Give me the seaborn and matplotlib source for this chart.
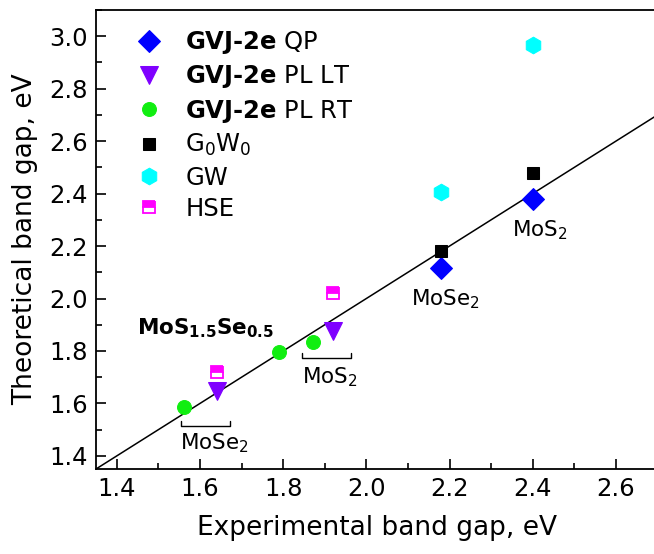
import numpy as np
import pandas as pd
import matplotlib
matplotlib.use("Agg")
import matplotlib.pyplot as plt
import seaborn as sns
from matplotlib.ticker import MultipleLocator

# band gaps, eV (experimental x, theoretical y)
qp_x = [2.18, 2.40]
qp_y = [2.115, 2.38]
pl_lt_x = [1.642, 1.921]
pl_lt_y = [1.648, 1.878]
pl_rt_x = [1.562, 1.791, 1.871]
pl_rt_y = [1.588, 1.797, 1.836]
g0w0_x = [2.18, 2.40]
g0w0_y = [2.183, 2.48]
gw_x = [2.18, 2.40]
gw_y = [2.406, 2.968]
hse_x = [1.64, 1.92]
hse_y = [1.72, 2.02]

labels = [r"$\mathbf{GVJ‐2e}$ QP", r"$\mathbf{GVJ‐2e}$ PL LT", r"$\mathbf{GVJ‐2e}$ PL RT",
          r"G$_0$W$_0$", "GW", "HSE"]

# bracket spans (x0, x1, y) grouping the PL points
brackets = [(1.555, 1.671, 1.515), (1.845, 1.962, 1.774)]

sns.set_style("ticks")
plt.rcParams['font.family'] = ['DejaVu Sans']
plt.rcParams['mathtext.fontset'] = 'dejavusans'
for k in ['text.color', 'axes.labelcolor', 'xtick.color', 'ytick.color', 'axes.edgecolor']:
    plt.rcParams[k] = 'black'

fig = plt.figure(figsize=(6.54, 5.54), dpi=100)
ax = fig.add_axes([96/654, 85/554, 561.5/654, 459/554])

kw = dict(linestyle='', estimator=None, sort=False, ax=ax)
sns.lineplot(x=qp_x, y=qp_y, marker='D', ms=11.5, color='#0000FF', mec='#0000FF', label=labels[0], **kw)
sns.lineplot(x=pl_lt_x, y=pl_lt_y, marker='v', ms=13, color='#7F00FF', mec='#7F00FF', label=labels[1], **kw)
sns.lineplot(x=pl_rt_x, y=pl_rt_y, marker='o', ms=10, color='#11EE11', mec='#11EE11', label=labels[2], **kw)
sns.lineplot(x=g0w0_x, y=g0w0_y, marker='s', ms=8.5, color='black', mec='black', label=labels[3], **kw)
sns.lineplot(x=gw_x, y=gw_y, marker='h', ms=12, color='#00FFFF', mec='#00FFFF', label=labels[4], **kw)
sns.lineplot(x=hse_x, y=hse_y, marker='s', ms=8.5, color='#FF00FF', mec='#FF00FF', mew=1.3,
             fillstyle='top', markerfacecoloralt='white', label=labels[5], **kw)

ax.axline((1.35, 1.35), slope=1, color='black', lw=1.1, zorder=1)

for x0, x1, yb in brackets:
    ax.plot([x0, x0, x1, x1], [yb + 0.018, yb, yb, yb + 0.018], color='black', lw=1)

ts = 15.5
ax.text(2.349, 2.237, r"MoS$_2$", fontsize=ts, va='baseline')
ax.text(2.107, 1.973, r"MoSe$_2$", fontsize=ts, va='baseline')
ax.text(1.845, 1.676, r"MoS$_2$", fontsize=ts, va='baseline')
ax.text(1.552, 1.424, r"MoSe$_2$", fontsize=ts, va='baseline')
ax.text(1.448, 1.862, r"$\mathbf{MoS_{1.5}Se_{0.5}}$", fontsize=ts, va='baseline')

ax.set_xlim(1.35, 2.7)
ax.set_ylim(1.35, 3.1)
ax.xaxis.set_major_locator(MultipleLocator(0.2))
ax.xaxis.set_minor_locator(MultipleLocator(0.1))
ax.yaxis.set_major_locator(MultipleLocator(0.2))
ax.yaxis.set_minor_locator(MultipleLocator(0.1))
ax.xaxis.set_major_formatter(matplotlib.ticker.FormatStrFormatter('%.1f'))
ax.yaxis.set_major_formatter(matplotlib.ticker.FormatStrFormatter('%.1f'))
ax.tick_params(which='both', direction='in', top=False, right=False, labelsize=17.5, width=1.2)
ax.tick_params(which='major', length=7, pad=6)
ax.tick_params(which='minor', length=4)
for s in ax.spines.values():
    s.set_linewidth(1.3)

ax.set_xlabel("Experimental band gap, eV", fontsize=19, labelpad=10)
ax.set_ylabel("Theoretical band gap, eV", fontsize=19, labelpad=8)

ax.legend(loc='upper left', frameon=False, fontsize=17.5, handletextpad=0.5,
          labelspacing=0.3, borderaxespad=0.2, bbox_to_anchor=(0.025, 0.99))

fig.savefig("out.png", dpi=100)
